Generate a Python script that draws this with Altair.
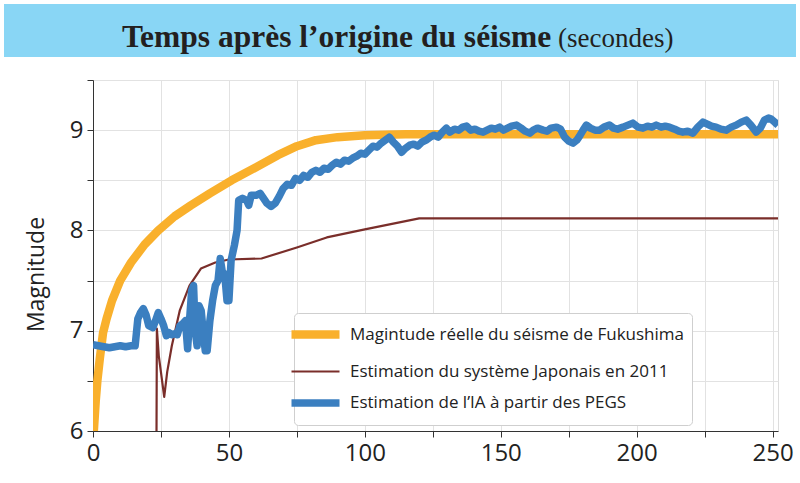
import altair as alt
import pandas as pd

# ---------------- data ----------------
series_names = [
    "Magintude réelle du séisme de Fukushima",
    "Estimation du système Japonais en 2011",
    "Estimation de l’IA à partir des PEGS",
]

real_t = [0.3, 1.0, 1.6, 2.5, 3.7, 5, 7, 10, 14, 19, 24, 30, 36, 43, 51, 60, 68, 75, 82, 90, 100, 115, 252]
real_m = [6.0, 6.3, 6.5, 6.72, 6.98, 7.12, 7.3, 7.5, 7.68, 7.86, 8.0, 8.14, 8.25, 8.37, 8.5, 8.63, 8.75, 8.84, 8.9, 8.93, 8.95, 8.96, 8.96]

jp_t = [23.3, 23.5, 24.2, 26.2, 27.3, 29, 31.9, 35.5, 39.7, 45, 50, 62, 75, 86, 100, 120, 252]
jp_m = [5.5, 7.02, 6.75, 6.34, 6.59, 6.85, 7.2, 7.45, 7.62, 7.68, 7.71, 7.72, 7.83, 7.93, 8.01, 8.12, 8.12]

ia_t = [0, 2, 4, 6, 8, 10, 12, 14, 15.5, 16.5, 17.5, 18.5, 19.5, 20.5, 22, 23, 24, 25, 26, 27,
        28, 29, 30, 31, 32, 33, 34, 34.8, 35.5, 36.3, 37, 37.6, 38.3, 39, 39.8, 40.5, 41.3, 42,
        43, 44, 45, 46, 46.8, 47.5, 48.5, 49.3, 50, 50.8, 52, 53, 53.6, 55, 56.5, 57.3, 58.2, 60,
        61.5, 62.5, 64, 65.5, 67, 68.5, 70, 71.5, 73, 74.5, 76, 77.5, 79, 80.5, 82, 83.5, 85, 86.5,
        88, 89.5, 91, 92.5, 94, 95.5, 97, 98.5, 100, 101.5, 103, 104.5, 106, 107.5, 109, 110.5,
        112, 113.5, 115, 116.5, 118, 119.5, 121, 122.5, 124, 125.5, 127, 128.5, 130, 131.3, 133,
        134.5, 136, 137.4, 139, 140.5, 142, 143.5, 145, 146.5, 148, 149.6, 151, 152.5, 154, 155.8,
        157.5, 159, 160.7, 162, 163.5, 165.6, 167, 168.5, 170.5, 172, 173.5, 175, 176.6, 178, 179,
        180.3, 181.5, 183, 184.7, 186.4, 188, 190, 191.5, 193, 195, 196.8, 198.6, 200.5, 202.3,
        204, 205.6, 207.2, 209, 210.5, 212.1, 214, 215.5, 217, 218.8, 220.7, 222.5, 224.4, 226,
        227.5, 229.2, 231, 232.9, 234.8, 236.6, 238.5, 240.3, 242, 244, 245.5, 247, 248.5, 249.5,
        250.8, 252]
ia_m = [6.86, 6.85, 6.84, 6.83, 6.84, 6.85, 6.84, 6.85, 6.85, 7.12, 7.18, 7.22, 7.16, 7.05, 7.03,
        7.1, 7.18, 7.12, 7.05, 6.95, 6.98, 6.96, 6.97, 6.96, 7.05, 7.07, 7.1, 6.82, 7.1, 7.4, 7.45,
        7.0, 6.85, 7.25, 7.2, 7.0, 6.8, 6.8, 7.1, 7.3, 7.45, 7.5, 7.72, 7.6, 7.55, 7.3, 7.3, 7.7,
        7.85, 8.0, 8.3, 8.32, 8.3, 8.25, 8.35, 8.35, 8.37, 8.33, 8.27, 8.24, 8.27, 8.34, 8.42, 8.46,
        8.45, 8.52, 8.5, 8.55, 8.53, 8.58, 8.6, 8.58, 8.62, 8.61, 8.65, 8.68, 8.66, 8.7, 8.69, 8.72,
        8.74, 8.77, 8.76, 8.8, 8.84, 8.83, 8.87, 8.9, 8.93, 8.88, 8.84, 8.78, 8.82, 8.85, 8.86, 8.84,
        8.88, 8.9, 8.93, 8.95, 8.93, 8.98, 9.02, 8.98, 9.01, 9.0, 9.03, 9.04, 9.0, 9.01, 8.99, 8.98,
        9.0, 9.02, 9.01, 9.03, 9.0, 9.02, 9.04, 9.05, 9.02, 8.99, 8.97, 9.0, 9.02, 9.0, 8.99, 9.02,
        9.03, 9.01, 8.93, 8.89, 8.87, 8.9, 8.94, 9.0, 9.05, 9.02, 9.0, 9.0, 9.03, 9.05, 9.02, 9.01,
        9.03, 9.05, 9.07, 9.03, 9.02, 9.04, 9.03, 9.05, 9.03, 9.04, 9.03, 9.01, 8.99, 8.98, 8.99,
        8.97, 9.03, 9.08, 9.06, 9.04, 9.03, 9.01, 9.0, 9.03, 9.05, 9.08, 9.1, 9.05, 8.98, 9.02, 9.1,
        9.12, 9.11, 9.08, 9.05]

x_ticks = [0, 25, 50, 75, 100, 125, 150, 175, 200, 225, 250]
y_ticks = [6, 6.5, 7, 7.5, 8, 8.5, 9, 9.5]

title_bold = "Temps après l’origine du séisme"
title_reg = "(secondes)"
y_title = "Magnitude"

colors = ["#F9B02C", "#7A2E2A", "#3B7FC0"]
widths = [8.5, 2.2, 7.5]

# ---------------- build table ----------------
df = pd.concat([
    pd.DataFrame({"t": real_t, "m": real_m, "s": series_names[0]}),
    pd.DataFrame({"t": jp_t, "m": jp_m, "s": series_names[1]}),
    pd.DataFrame({"t": ia_t, "m": ia_m, "s": series_names[2]}),
], ignore_index=True)

legend = alt.Legend(
    title=None, orient="none", legendX=201, legendY=233, direction="vertical",
    fillColor="white", strokeColor="#cfcfcf", cornerRadius=4, padding=7,
    labelFont="Open Sans", labelFontSize=17, labelColor="#222",
    symbolType="M-2.4,0H2.4", symbolSize=400, labelOffset=20, rowPadding=8,
    labelLimit=400,
)

xscale = alt.Scale(domain=[0, 252], nice=False, zero=False)
yscale = alt.Scale(domain=[6, 9.5], nice=False, zero=False)

x_axis = alt.Axis(
    values=x_ticks, labelExpr="datum.value % 50 === 0 ? '' + datum.value : ''",
    title=None, grid=True, gridColor="#e2e2e2", domainColor="#333", tickColor="#333",
    tickSize=6, labelFont="Open Sans", labelFontSize=24, labelColor="#222", labelPadding=4,
    labelFlush=False,
)
y_axis = alt.Axis(
    values=y_ticks, labelExpr="datum.value % 1 === 0 ? '' + datum.value : ''",
    title=y_title, grid=True, gridColor="#e2e2e2", domainColor="#333", tickColor="#333",
    tickSize=6, labelFont="Open Sans", labelFontSize=24, labelColor="#222", labelPadding=4,
    titleFont="Open Sans", titleFontSize=23, titleFontWeight="normal", titleColor="#222",
    titleX=-50, titleY=194, titleAngle=270, titleBaseline="alphabetic", titleAlign="center",
    labelFlush=False,
)

def line_layer(i):
    return alt.Chart(df).transform_filter(
        alt.datum.s == series_names[i]
    ).mark_line(clip=True, strokeJoin="round", strokeCap="butt").encode(
        x=alt.X("t:Q", scale=xscale, axis=x_axis),
        y=alt.Y("m:Q", scale=yscale, axis=y_axis),
        color=alt.Color("s:N", scale=alt.Scale(domain=series_names, range=colors), legend=legend),
        strokeWidth=alt.StrokeWidth(
            "s:N", scale=alt.Scale(type="ordinal", domain=series_names, range=widths), legend=legend
        ),
        order="t:Q",
    )

band = alt.Chart(pd.DataFrame({"a": [0]})).mark_rect(color="#89D6F5").encode(
    x=alt.value(-89), x2=alt.value(703), y=alt.value(-76), y2=alt.value(-23)
)
t1 = alt.Chart(pd.DataFrame({"txt": [title_bold]})).mark_text(
    font="Liberation Serif", fontSize=31.5, fontWeight="bold", align="left",
    baseline="alphabetic", color="#231F20"
).encode(text="txt:N", x=alt.value(29), y=alt.value(-33))
t2 = alt.Chart(pd.DataFrame({"txt": [title_reg]})).mark_text(
    font="Liberation Serif", fontSize=27, align="left",
    baseline="alphabetic", color="#231F20"
).encode(text="txt:N", x=alt.value(465), y=alt.value(-33))

chart = alt.layer(band, t1, t2, line_layer(0), line_layer(1), line_layer(2)).properties(
    width=685, height=351,
    autosize=alt.AutoSizeParams(type="none"),
    padding={"left": 93, "top": 80, "right": 22, "bottom": 52},
).configure_view(stroke="#777", strokeWidth=1).configure(background="white")

chart.save("out.html", embed_options={"renderer": "svg", "actions": False})
